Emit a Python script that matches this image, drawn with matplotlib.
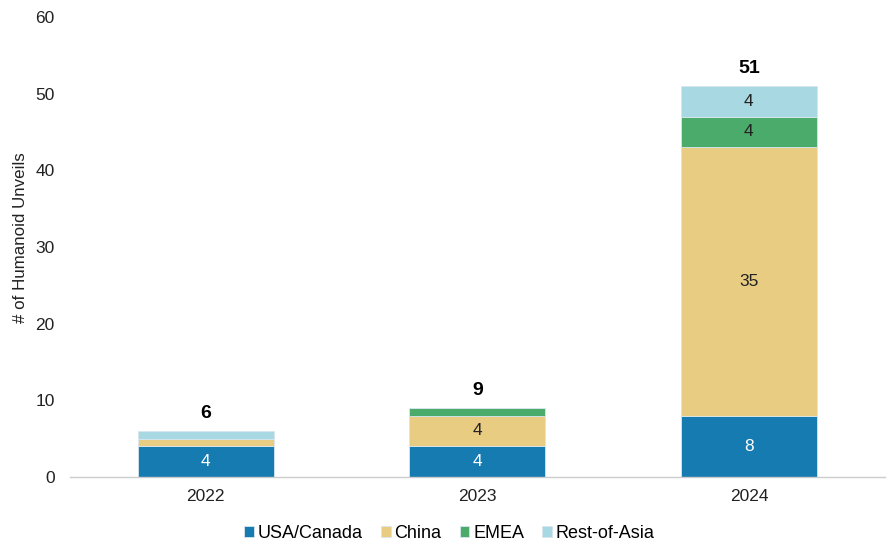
import matplotlib
matplotlib.use("Agg")
import matplotlib.pyplot as plt
import numpy as np

years = ["2022", "2023", "2024"]
regions = ["USA/Canada", "China", "EMEA", "Rest-of-Asia"]
usa_canada = [4, 4, 8]
china = [1, 4, 35]
emea = [0, 1, 4]
rest_of_asia = [1, 0, 4]
colors = ["#157bb0", "#e8cc82", "#4aab6a", "#a8d8e2"]
label_colors = ["white", "#222222", "#222222", "#222222"]

plt.rcParams["font.family"] = ["Liberation Sans", "DejaVu Sans"]

series = [usa_canada, china, emea, rest_of_asia]
totals = np.sum(series, axis=0)

fig = plt.figure(figsize=(8.9, 5.48), dpi=100)
ax = fig.add_axes([0.0787, 0.1296, 0.9153, 0.8394])

x = np.arange(len(years))
bottom = np.zeros(len(years))
for name, vals, col, lc in zip(regions, series, colors, label_colors):
    vals = np.array(vals, dtype=float)
    ax.bar(x, vals, width=0.5, bottom=bottom, color=col, label=name,
           edgecolor="#d8e6ee", linewidth=0.6)
    for xi, b, v in zip(x, bottom, vals):
        if v >= 2:
            ax.text(xi, b + v / 2, f"{int(v)}", ha="center", va="center",
                    fontsize=12.5, color=lc)
    bottom += vals

for xi, t in zip(x, totals):
    ax.text(xi, t + 2.3, f"{int(t)}", ha="center", va="center",
            fontsize=14, fontweight="bold", color="black")

ax.set_xlim(-0.5, 2.5)
ax.set_ylim(0, 60)
ax.set_yticks(range(0, 61, 10))
ax.set_xticks(x)
ax.set_xticklabels(years)
ax.tick_params(axis="both", length=0, labelsize=12.5, colors="#222222")
ax.tick_params(axis="y", pad=11)
ax.tick_params(axis="x", pad=9)
for s in ["top", "right", "left"]:
    ax.spines[s].set_visible(False)
ax.spines["bottom"].set_color("#cccccc")
ax.spines["bottom"].set_linewidth(1)
ax.set_ylabel("# of Humanoid Unveils", fontsize=12.2, color="#222222")
ax.yaxis.set_label_coords(-0.052, 0.52)

fig.legend(*ax.get_legend_handles_labels(), loc="center",
           bbox_to_anchor=(0.505, 0.027), ncol=4, frameon=False,
           fontsize=13, handlelength=0.55, handleheight=0.55, handletextpad=0.2,
           columnspacing=1.0)

fig.savefig("out.png", dpi=100)
